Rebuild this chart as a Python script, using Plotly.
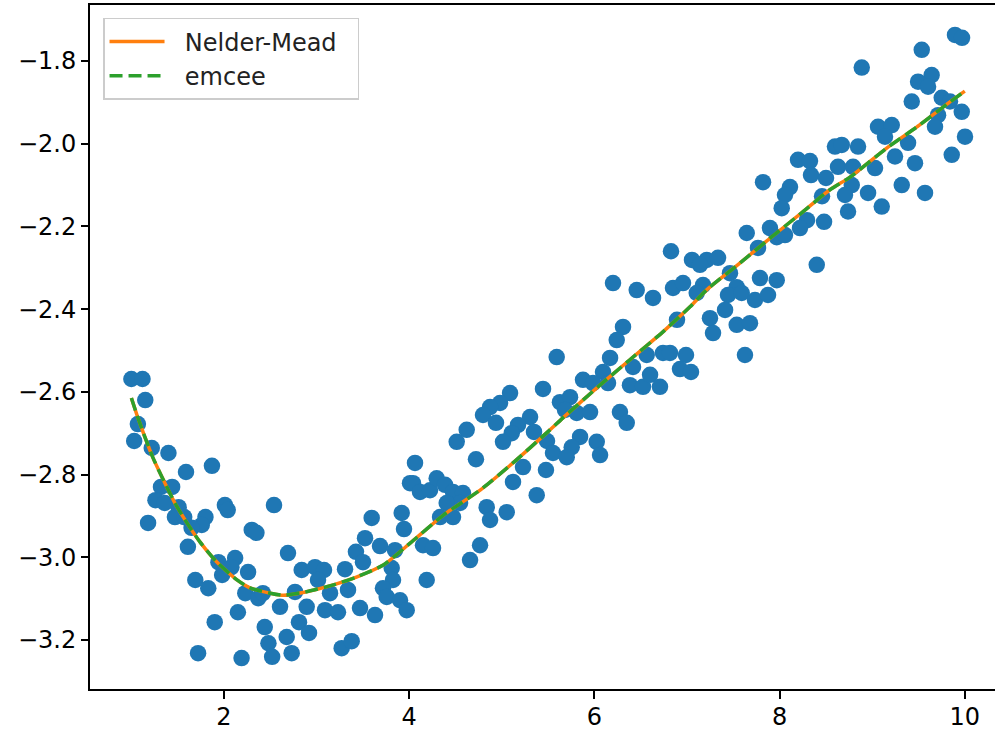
import plotly.graph_objects as go

x_obs = [1.00, 1.12, 1.15, 1.07, 1.03, 1.22, 1.40, 1.87, 1.59, 1.44, 1.32, 1.26, 1.36, 1.51, 1.47, 1.18,
         1.57, 2.01, 2.04, 1.80, 1.76, 1.65, 2.30, 2.35, 1.61, 1.94, 2.12, 2.08, 1.98, 2.26, 1.69, 1.83,
         2.23, 2.37, 2.42, 2.15, 1.90, 2.44, 2.48, 2.52, 1.72, 2.19, 2.54,
         4.009, 3.595, 3.919, 3.944, 3.523, 3.685, 3.847, 3.425, 2.691, 2.839, 2.983, 3.080, 3.307, 3.501,
         3.015, 3.811, 3.825, 3.717, 3.757, 3.901, 3.973, 2.605, 2.767, 2.893, 3.091, 3.231, 3.145, 3.339,
         3.469, 3.631, 2.677, 2.731, 2.810, 2.918, 3.271, 3.379,
         5.445, 5.089, 4.981, 4.873, 4.797, 4.937, 5.305, 5.175, 5.107, 5.013, 5.348, 5.488, 4.621, 4.513,
         4.721, 4.063, 5.229, 5.477, 5.121, 5.377, 4.041, 4.117, 4.225, 4.297, 4.387, 4.473, 4.581, 4.549,
         4.405, 4.333, 4.473, 4.837, 4.873, 5.053, 4.149, 4.257, 4.765, 4.657, 4.189,
         6.827, 7.054, 6.201, 6.457, 6.633, 6.849, 6.957, 6.892, 6.309, 6.241, 5.593, 6.169, 6.417, 6.565,
         6.741, 6.989, 6.924, 7.043, 6.093, 5.877, 5.985, 6.147, 6.384, 6.525, 6.601, 6.708, 5.628, 5.737,
         5.683, 5.809, 5.953, 6.276, 6.349, 5.845, 6.025, 5.755, 5.553, 5.701, 6.061,
         8.199, 8.328, 8.339, 8.501, 7.821, 8.112, 8.058, 8.458, 8.023, 8.296, 8.220, 8.480, 7.896, 7.645,
         7.969, 8.058, 7.767, 8.401, 7.213, 7.335, 7.140, 7.464, 7.788, 7.969, 7.173, 7.105, 7.537, 7.443,
         7.591, 7.734, 7.875, 7.411, 7.248, 7.537, 7.680, 7.281, 6.816, 7.626,
         9.894, 9.970, 9.535, 8.887, 9.642, 9.495, 9.603, 9.427, 9.751, 9.840, 9.967, 9.711, 9.678, 9.063,
         9.211, 9.138, 9.387, 10.002, 8.598, 8.671, 8.847, 9.246, 9.462, 9.859, 8.631, 8.793, 9.030, 8.779,
         9.319, 9.570, 8.706, 8.955, 8.739, 9.103]
y_obs = [-2.569, -2.569, -2.620, -2.678, -2.719, -2.736, -2.748, -2.779, -2.794, -2.830, -2.830, -2.862,
         -2.869, -2.879, -2.903, -2.917, -2.903, -2.874, -2.886, -2.903, -2.922, -2.929, -2.934, -2.941,
         -2.975, -3.012, -3.002, -3.024, -3.043, -3.036, -3.055, -3.075, -3.087, -3.099, -3.087, -3.133,
         -3.157, -3.169, -3.208, -3.241, -3.232, -3.244, -2.874,
         -2.821, -2.905, -2.893, -2.932, -2.954, -2.973, -2.983, -2.987, -2.990, -3.031, -3.024, -3.031,
         -3.029, -3.012, -3.055, -3.026, -3.055, -3.075, -3.096, -3.104, -3.128, -3.120, -3.084, -3.120,
         -3.128, -3.133, -3.087, -3.079, -3.123, -3.140, -3.193, -3.232, -3.157, -3.183, -3.220, -3.203,
         -2.593, -2.603, -2.627, -2.637, -2.656, -2.675, -2.661, -2.680, -2.700, -2.721, -2.697, -2.719,
         -2.692, -2.721, -2.763, -2.772, -2.782, -2.789, -2.818, -2.850, -2.821, -2.842, -2.838, -2.809,
         -2.825, -2.842, -2.845, -2.869, -2.869, -2.903, -2.903, -2.879, -2.910, -2.891, -2.971, -2.978,
         -2.971, -3.007, -3.055,
         -2.260, -2.281, -2.337, -2.354, -2.373, -2.349, -2.337, -2.426, -2.443, -2.475, -2.516, -2.518,
         -2.540, -2.511, -2.506, -2.511, -2.545, -2.552, -2.552, -2.571, -2.579, -2.579, -2.584, -2.588,
         -2.559, -2.588, -2.625, -2.613, -2.644, -2.651, -2.649, -2.649, -2.675, -2.709, -2.721, -2.734,
         -2.748, -2.758, -2.753,
         -2.039, -2.042, -2.076, -2.083, -2.093, -2.105, -2.124, -2.127, -2.156, -2.185, -2.204, -2.189,
         -2.204, -2.216, -2.226, -2.221, -2.252, -2.293, -2.281, -2.276, -2.293, -2.313, -2.325, -2.330,
         -2.342, -2.361, -2.347, -2.366, -2.361, -2.378, -2.366, -2.402, -2.422, -2.438, -2.434, -2.458,
         -2.506, -2.511,
         -1.737, -1.744, -1.773, -1.816, -1.834, -1.850, -1.862, -1.898, -1.889, -1.898, -1.923, -1.931,
         -1.959, -1.959, -1.955, -1.983, -1.998, -1.983, -2.007, -2.003, -2.007, -2.031, -2.047, -2.027,
         -2.056, -2.056, -2.059, -2.100, -2.100, -2.119, -2.124, -2.119, -2.164, -2.152]

# Fitted model curves
x_fit = [1.00, 1.06, 1.13, 1.23, 1.33, 1.47, 1.60, 1.74, 1.92, 2.14, 2.28, 2.50, 2.64, 2.88, 3.18,
         3.43, 3.72, 4.01, 4.37, 4.77, 5.12, 5.52, 5.66, 6.06, 6.38, 6.74, 7.03, 7.21, 7.57, 7.90,
         8.25, 8.54, 8.76, 9.16, 9.48, 9.84, 10.00]
y_nelder = [-2.615, -2.656, -2.700, -2.758, -2.806, -2.869, -2.917, -2.963, -3.011, -3.055, -3.074,
            -3.087, -3.092, -3.084, -3.067, -3.048, -3.019, -2.966, -2.898, -2.837, -2.772, -2.692,
            -2.663, -2.584, -2.523, -2.455, -2.395, -2.354, -2.289, -2.228, -2.165, -2.112, -2.081,
            -2.010, -1.960, -1.899, -1.873]
y_emcee = list(y_nelder)

series_names = ["Nelder-Mead", "emcee"]

x_tickvals = [2, 4, 6, 8, 10]
x_ticktext = ["2", "4", "6", "8", "10"]
y_tickvals = [-3.2, -3.0, -2.8, -2.6, -2.4, -2.2, -2.0, -1.8]
y_ticktext = ["\u22123.2", "\u22123.0", "\u22122.8", "\u22122.6", "\u22122.4", "\u22122.2", "\u22122.0", "\u22121.8"]

FONT = "DejaVu Sans"
PAD = "\u00a0\u00a0"

fig = go.Figure()
fig.add_trace(go.Scatter(x=x_obs, y=y_obs, mode="markers", showlegend=False,
                         marker=dict(color="#1f77b4", size=16.5, line=dict(width=0))))
fig.add_trace(go.Scatter(x=x_fit, y=y_nelder, mode="lines", name=PAD + series_names[0] + PAD,
                         line=dict(color="#ff7f0e", width=3.5, shape="spline", smoothing=0.6)))
fig.add_trace(go.Scatter(x=x_fit, y=y_emcee, mode="lines", name=PAD + series_names[1],
                         line=dict(color="#2ca02c", width=3.5, dash="13px,6px", shape="spline", smoothing=0.6)))

fig.update_layout(
    width=996, height=730,
    margin=dict(l=90, r=1, t=5, b=41),
    paper_bgcolor="white", plot_bgcolor="white",
    font=dict(family=FONT, size=24, color="black"),
    legend=dict(x=0.0144, y=0.981, xanchor="left", yanchor="top",
                bgcolor="rgba(255,255,255,0.8)", bordercolor="#cccccc", borderwidth=1.5,
                itemwidth=55,
                font=dict(family=FONT, size=24, color="#222222"), tracegroupgap=4),
    xaxis=dict(range=[0.553, 10.326], tickvals=x_tickvals, ticktext=x_ticktext,
               showgrid=False, zeroline=False, showline=True, linecolor="black", linewidth=2,
               mirror=True, ticks="outside", ticklen=8, tickwidth=2, tickcolor="black",
               ticklabelstandoff=-3, automargin=False),
    yaxis=dict(range=[-3.3187, -1.6646], tickvals=y_tickvals, ticktext=y_ticktext,
               showgrid=False, zeroline=False, showline=True, linecolor="black", linewidth=2,
               mirror=False, ticks="outside", ticklen=7, tickwidth=2, tickcolor="black",
               automargin=False),
)

fig.write_html("out.html", config={"displayModeBar": False},
               post_script="document.body.style.margin='0px';")
